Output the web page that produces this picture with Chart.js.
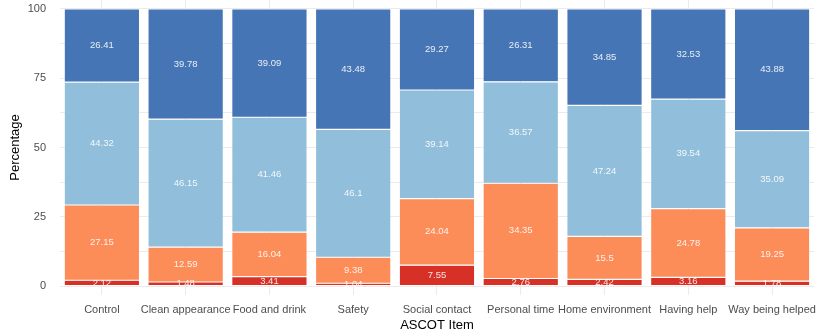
<!DOCTYPE html>
<html>
<head>
<meta charset="utf-8">
<script src="https://cdn.jsdelivr.net/npm/chart.js@4"></script>
<style>
  html, body { margin: 0; padding: 0; background: #fff; }
  #wrap { width: 824px; height: 334px; }
</style>
</head>
<body>
<div id="wrap"><canvas id="myChart"></canvas></div>
<script>
const items = ['Control', 'Clean appearance', 'Food and drink', 'Safety', 'Social contact',
  'Personal time', 'Home environment', 'Having help', 'Way being helped'];
const highNeeds = [2.12, 1.48, 3.41, 1.04, 7.55, 2.76, 2.42, 3.16, 1.78];
const someNeeds = [27.15, 12.59, 16.04, 9.38, 24.04, 34.35, 15.5, 24.78, 19.25];
const noNeeds = [44.32, 46.15, 41.46, 46.1, 39.14, 36.57, 47.24, 39.54, 35.09];
const idealState = [26.41, 39.78, 39.09, 43.48, 29.27, 26.31, 34.85, 32.53, 43.88];
const yTicks = [0, 12.5, 25, 37.5, 50, 62.5, 75, 87.5, 100];

const font = "'Liberation Sans', Arial, sans-serif";

// draws the value in the middle of each segment
const segLabels = {
  id: 'segLabels',
  afterDatasetsDraw(chart) {
    const c = chart.ctx;
    c.save();
    c.font = '9.5px ' + font;
    c.fillStyle = 'rgba(255,255,255,0.88)';
    c.textAlign = 'center';
    c.textBaseline = 'middle';
    chart.data.datasets.forEach((ds, i) => {
      chart.getDatasetMeta(i).data.forEach((bar, j) => {
        c.fillText(String(ds.data[j]), bar.x, (bar.y + bar.base) / 2);
      });
    });
    c.restore();
  }
};

new Chart(document.getElementById('myChart'), {
  type: 'bar',
  data: {
    labels: items,
    datasets: [
      { label: 'High needs', data: highNeeds, backgroundColor: '#d73027' },
      { label: 'Some needs', data: someNeeds, backgroundColor: '#fc8d59' },
      { label: 'No needs', data: noNeeds, backgroundColor: '#91bfdb' },
      { label: 'Ideal state', data: idealState, backgroundColor: '#4575b4' }
    ]
  },
  options: {
    responsive: true,
    maintainAspectRatio: false,
    animation: false,
    layout: { padding: { top: 0, right: 2, bottom: 0, left: 0 } },
    plugins: { legend: { display: false }, tooltip: { enabled: false } },
    datasets: {
      bar: {
        categoryPercentage: 1, barPercentage: 0.9,
        borderWidth: 0.6, borderColor: 'rgba(255,255,255,0.35)', borderSkipped: false
      }
    },
    scales: {
      x: {
        stacked: true,
        afterFit: scale => { scale.height = 39; },
        grid: { offset: false, color: '#ebebeb', drawTicks: false },
        border: { display: false },
        ticks: { color: '#4d4d4d', font: { family: font, size: 11 }, padding: 8, maxRotation: 0, autoSkip: false },
        title: { display: true, text: 'ASCOT Item', color: '#000', font: { family: font, size: 13 }, padding: { top: 0, bottom: 1 } }
      },
      y: {
        stacked: true,
        min: -3.2,
        max: 103.2,
        afterBuildTicks: axis => { axis.ticks = yTicks.map(v => ({ value: v })); },
        afterFit: scale => { scale.width = 60; scale.paddingTop = 0; scale.paddingBottom = 0; },
        grid: { color: '#ebebeb', drawTicks: false },
        border: { display: false },
        ticks: {
          color: '#4d4d4d', font: { family: font, size: 11 }, padding: 14,
          callback: v => (v % 25 === 0 ? v : '')
        },
        title: { display: true, text: 'Percentage', color: '#000', font: { family: font, size: 13 }, padding: { top: 8, bottom: 0 } }
      }
    }
  },
  plugins: [segLabels]
});
</script>
</body>
</html>
